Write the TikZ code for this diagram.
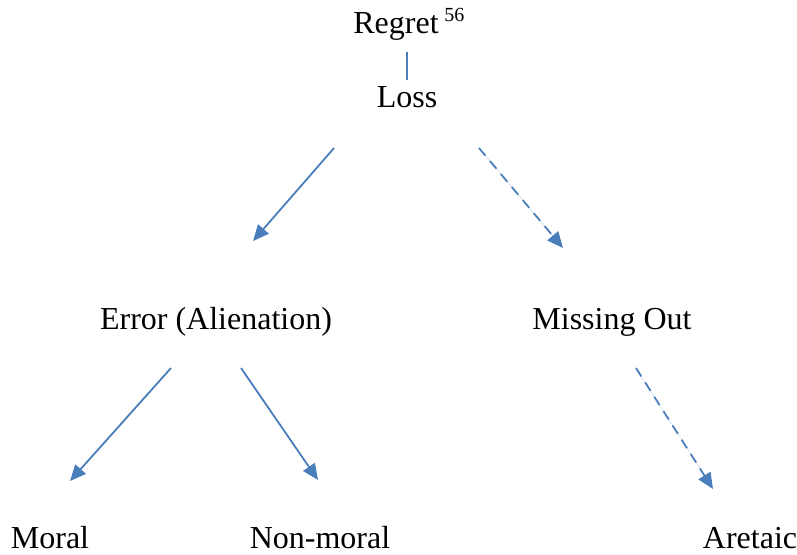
\documentclass[tikz,border=0pt]{standalone}
\usepackage{fontspec}
\setmainfont{Liberation Serif}
\usetikzlibrary{arrows.meta}
\definecolor{linkblue}{HTML}{4A7EBB}

\begin{document}
\begin{tikzpicture}[x = .5pt, y = -.5pt,
  every node/.style = {font=\fontsize{16}{19}\selectfont, anchor=base, inner sep=0pt},
  link/.style = {-{Triangle[length=8pt, width=7pt]}, draw=linkblue, fill=linkblue, line width=.9pt},
  maybe/.style = {link, dash pattern=on 5pt off 3.5pt}]
\useasboundingbox (0, 0) rectangle (797, 554);

\node (R) at (396, 33) {Regret};
\node[font=\fontsize{10}{12}\selectfont, anchor=base west] (fn) at (444, 21) {56};
\node (L) at (407, 107) {Loss};
\node (E) at (216, 329) {Error (Alienation)};
\node (M) at (612, 329) {Missing Out};
\node (Mo) at (50, 548) {Moral};
\node (N) at (320, 548) {Non-moral};
\node (A) at (750, 548) {Aretaic};

\coordinate (l1) at (334, 148);
\coordinate (l2) at (253, 241);
\coordinate (m1) at (479, 148);
\coordinate (m2) at (563, 248);
\coordinate (e1) at (171, 368);
\coordinate (e2) at (70, 481);
\coordinate (e3) at (241, 368);
\coordinate (e4) at (318, 480);
\coordinate (o1) at (636, 368);
\coordinate (o2) at (713, 489);

\draw[draw=linkblue, line width=.9pt] (407, 52) -- (407, 80);
\draw[link] (l1) -- (l2);
\draw[maybe] (m1) -- (m2);
\draw[link] (e1) -- (e2);
\draw[link] (e3) -- (e4);
\draw[maybe] (o1) -- (o2);

\end{tikzpicture}
\end{document}
